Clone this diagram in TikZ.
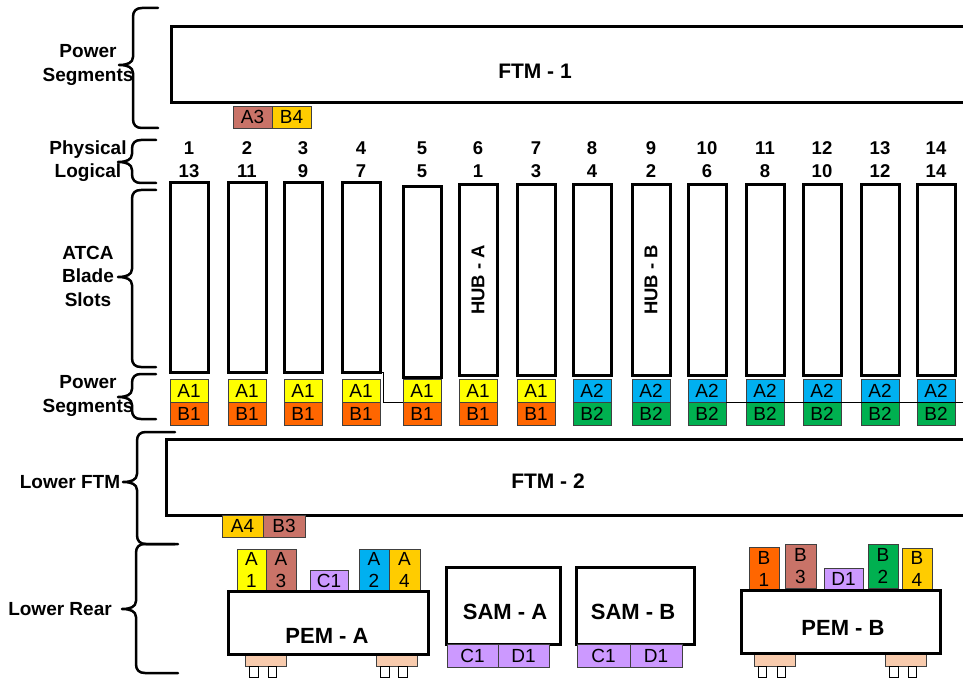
\documentclass[tikz,border=0pt]{standalone}
\usepackage{fontspec}
\setmainfont{Liberation Sans}
\usetikzlibrary{positioning}
\definecolor{segA1}{HTML}{FFFF00}
\definecolor{segB1}{HTML}{FF6600}
\definecolor{segA2}{HTML}{00B0F0}
\definecolor{segB2}{HTML}{00B050}
\definecolor{rose}{HTML}{C97368}
\definecolor{gold}{HTML}{FFCC00}
\definecolor{lav}{HTML}{CC99FF}
\definecolor{peach}{HTML}{F8CBAD}
\definecolor{edgeGrey}{HTML}{404040}
\newcommand{\sidebrace}[5]{% x, top, tip, bottom, arm
  \draw[bracestroke] (#1+#5,#2) -- (#1+9,#2) .. controls (#1+3,#2) and (#1,#2+3) .. (#1,#2+9)
    -- (#1,#3-8) .. controls (#1,#3-2) and (#1-6,#3) .. (#1-14,#3)
    .. controls (#1-6,#3) and (#1,#3+2) .. (#1,#3+8)
    -- (#1,#4-9) .. controls (#1,#4-3) and (#1+3,#4) .. (#1+9,#4) -- (#1+#5,#4);}
\tikzset{
  bracestroke/.style = {line width=2.5pt, line cap=round, line join=round},
  sidelbl/.style     = {font=\bfseries\fontsize{19}{23.5}\selectfont, align=center, inner sep=0pt},
  slotnum/.style     = {font=\bfseries\fontsize{18.5}{20}\selectfont, inner sep=0pt},
  slotbox/.style     = {draw, line width=3pt, minimum width=38pt, minimum height=190pt,
                        inner sep=0pt, outer sep=0pt},
  hubtxt/.style      = {font=\bfseries\fontsize{18.5}{20}\selectfont, inner sep=0pt},
  ftmbox/.style      = {draw, line width=3pt, inner sep=0pt, outer sep=0pt},
  ftmtxt/.style      = {font=\bfseries\fontsize{21}{24}\selectfont, inner sep=0pt},
  modbox/.style      = {draw, fill=white, line width=3pt, inner sep=0pt, outer sep=0pt},
  modtxt/.style      = {font=\bfseries\fontsize{22}{25}\selectfont, inner sep=0pt},
  pwr/.style         = {draw=edgeGrey, line width=0.8pt, inner sep=0pt, outer sep=0pt,
                        minimum width=38pt, minimum height=23pt, font=\fontsize{19}{20}\selectfont},
  conn/.style        = {pwr, align=center, font=\fontsize{19}{22}\selectfont},
  footbox/.style     = {draw=edgeGrey, fill=peach, line width=0.8pt, minimum width=41pt,
                        minimum height=12pt, inner sep=0pt, outer sep=0pt},
  pinbox/.style      = {draw, fill=white, line width=0.8pt, minimum width=8.5pt,
                        minimum height=11pt, inner sep=0pt},
  wire/.style        = {line width=0.6pt},
}
\begin{document}
\begin{tikzpicture}[x=1pt, y=-1pt]
  \path[use as bounding box, clip] (0,0) rectangle (963,679);

  % braces down the left side
  \sidebrace{133}{8}{65}{128}{25}
  \sidebrace{132}{140}{162}{183}{24}
  \sidebrace{132}{190}{277}{367}{24}
  \sidebrace{132}{374}{397}{419}{24}
  \sidebrace{137}{432}{482}{544}{38}
  \sidebrace{136}{544}{609}{673}{42}

  \node[sidelbl] (lblTop)   at (88,65)  {Power\\Segments};
  \node[sidelbl] (lblNum)   at (88,161) {Physical\\Logical};
  \node[sidelbl] (lblSlots) at (88,276) {ATCA\\Blade\\Slots};
  \node[sidelbl] (lblPwr)   at (88,396) {Power\\Segments};
  \node[sidelbl] (lblFtm)   at (70,482) {Lower FTM};
  \node[sidelbl] (lblRear)  at (60,609) {Lower Rear};

  % FTM - 1
  \node[ftmbox, minimum width=810pt, minimum height=76pt, anchor=north west] (ftm1) at (171,27) {};
  \node[ftmtxt] (ftm1txt) at (535,71) {FTM - 1};
  \node[pwr, fill=rose, minimum width=39pt, minimum height=22pt] (ftm1a) at (252.5,117) {A3};
  \node[pwr, fill=gold, minimum width=39pt, minimum height=22pt, right=0pt of ftm1a] (ftm1b) {B4};

  % slots with their numbers and power segments
  \foreach \x/\y/\p/\l/\s [count=\i] in {189/277.5/1/13/1, 247/277.5/2/11/1, 303/277.5/3/9/1,
      361/277.5/4/7/1, 422/282/5/5/1, 478/280/6/1/1, 536/280/7/3/1, 592/280/8/4/2,
      651/280/9/2/2, 707/280/10/6/2, 765/280/11/8/2, 822/280/12/10/2, 880/280/13/12/2,
      936/280/14/14/2}{
    \node[slotnum] (phys\i) at (\x,148) {\p};
    \node[slotnum] (logi\i) at (\x,171.5) {\l};
    \node[slotbox] (slot\i) at (\x,\y) {};
    \node[pwr, fill=segA\s] (pa\i) at (\x,390.5) {A\s};
    \node[pwr, fill=segB\s] (pb\i) at (\x,413.5) {B\s};
  }
  \node[hubtxt, rotate=90] (hubA) at (slot6) {HUB - A};
  \node[hubtxt, rotate=90] (hubB) at (slot9) {HUB - B};

  \coordinate (rimR) at (963,402);
  \draw[wire] (slot4.south) -- ++(22,0) |- (pb5.north west);
  \draw[wire] (pa10.south east) -- (pa10.south east -| rimR);

  % FTM - 2
  \node[ftmbox, minimum width=815pt, minimum height=76pt, anchor=north west] (ftm2) at (166,439) {};
  \node[ftmtxt] (ftm2txt) at (548,481) {FTM - 2};
  \node[pwr, fill=gold, minimum width=41pt, minimum height=22pt] (ftm2a) at (242.5,526) {A4};
  \node[pwr, fill=rose, minimum width=42pt, minimum height=22pt, right=0pt of ftm2a] (ftm2b) {B3};

  % PEM - A
  \node[conn, fill=segA1, minimum width=29pt, minimum height=42pt] (pemaA1) at (251.5,570) {A\\1};
  \node[conn, fill=rose,  minimum width=30pt, minimum height=42pt] (pemaA3) at (281,570) {A\\3};
  \node[pwr,  fill=lav,   minimum width=38pt, minimum height=21pt] (pemaC1) at (329,580.5) {C1};
  \node[conn, fill=segA2, minimum width=30pt, minimum height=42pt] (pemaA2) at (374,570) {A\\2};
  \node[conn, fill=gold,  minimum width=31pt, minimum height=42pt] (pemaA4) at (404.5,570) {A\\4};
  \node[footbox] (pemaF1) at (265.5,660) {};
  \node[footbox] (pemaF2) at (396.5,660) {};
  \node[modbox, minimum width=200pt, minimum height=63pt] (pema) at (328,622.5) {};
  \node[modtxt] (pematxt) at (327,636) {PEM - A};

  % SAM - A and SAM - B
  \node[modbox, minimum width=114pt, minimum height=77pt] (sama) at (503,605.5) {};
  \node[modtxt] (samatxt) at (505,612) {SAM - A};
  \node[pwr, fill=lav, minimum width=51pt] (samaC) at (472.5,655.5) {C1};
  \node[pwr, fill=lav, minimum width=51pt, right=0pt of samaC] (samaD) {D1};

  \node[modbox, minimum width=118pt, minimum height=77pt] (samb) at (635,605.5) {};
  \node[modtxt] (sambtxt) at (633,612) {SAM - B};
  \node[pwr, fill=lav, minimum width=53pt] (sambC) at (603.5,655.5) {C1};
  \node[pwr, fill=lav, minimum width=52pt, right=0pt of sambC] (sambD) {D1};

  % PEM - B
  \node[conn, fill=segB1, minimum width=30pt, minimum height=43pt] (pembB1) at (764,568.5) {B\\1};
  \node[conn, fill=rose,  minimum width=31pt, minimum height=44pt] (pembB3) at (800.5,566) {B\\3};
  \node[pwr,  fill=lav,   minimum width=39pt, minimum height=22pt] (pembD1) at (843.5,579) {D1};
  \node[conn, fill=segB2, minimum width=30pt, minimum height=44pt] (pembB2) at (883,566) {B\\2};
  \node[conn, fill=gold,  minimum width=30pt, minimum height=42pt] (pembB4) at (917,569) {B\\4};
  \node[footbox, minimum height=13pt] (pembF1) at (774.5,659.5) {};
  \node[footbox, minimum height=13pt] (pembF2) at (905.5,659.5) {};
  \node[modbox, minimum width=199pt, minimum height=63pt] (pemb) at (840.5,621.5) {};
  \node[modtxt] (pembtxt) at (843,628) {PEM - B};

  % pins under the feet
  \foreach \x [count=\k] in {254,272.5,385,403,762.5,781.5,894,912.5}
    \node[pinbox] (pin\k) at (\x,671.5) {};
\end{tikzpicture}
\end{document}
